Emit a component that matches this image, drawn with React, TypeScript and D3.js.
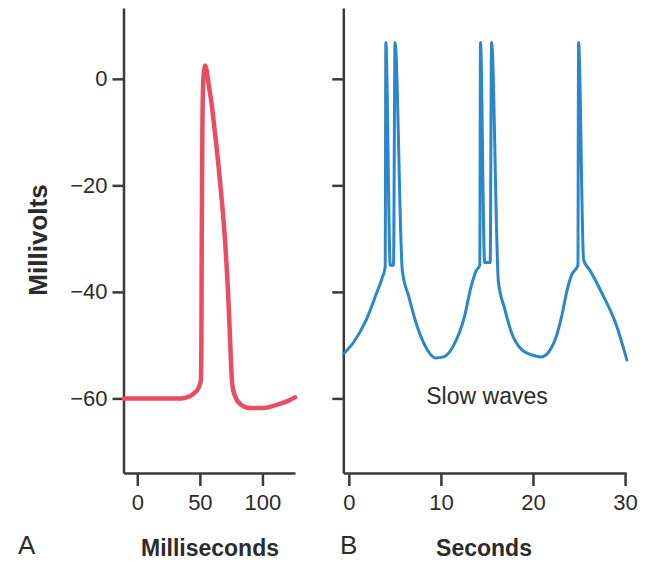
import React, { useRef, useEffect } from "react";
import * as d3 from "d3";

// panel A: action potential (ms, mV)
const msTimes = [-10.6, 0, 20, 35, 42, 46, 49, 50.8, 51.2, 51.5, 52, 52.5, 53.3, 54.3, 55.5, 57, 59, 62, 66, 70, 72.5, 74, 75, 76, 78, 82, 90, 100, 110, 120, 126];
const msValues = [-60, -60, -60, -60, -59.6, -58.9, -58, -56.5, -50, -30, -10, -2, 1.5, 2.5, 1.5, -1, -4, -10, -19, -30, -40, -48, -54, -57.5, -59.5, -61, -61.8, -61.8, -61.3, -60.5, -59.8];

// panel B: slow waves with spikes (s, mV)
const secTimes = [-0.5, 0.5, 1.8, 3.0, 3.6, 3.95, 4.02, 4.5, 4.85, 5.02, 5.81, 6.5, 7.26, 8.14, 9.45, 10.3, 11.4, 12.55, 13.28, 13.83, 14.22, 14.3, 14.75, 15.35, 15.5, 16.24, 16.9, 17.7, 18.75, 20.0, 20.9, 22.4, 23.1, 23.7, 24.2, 24.88, 24.95, 25.5, 26.2, 27.5, 28.96, 30.2];
const secValues = [-51.5, -49.5, -45.6, -40.3, -37.5, -35.3, 6.8, -35, -35, 6.8, -36, -40.8, -45.6, -49.6, -52.4, -52.2, -50, -44.7, -39, -36, -35, 6.8, -34.5, -34.5, 6.8, -38, -43, -47.8, -50.8, -51.9, -52.2, -49, -44.7, -39.7, -36.8, -35, 6.8, -34, -36, -40.3, -45.8, -52.8];

const mvTicks = [0, -20, -40, -60];
const msTicks = [0, 50, 100];
const secTicks = [0, 10, 20, 30];

const FONT = "'Liberation Sans', Arial, sans-serif";
const INK = "#2b2b2b";

const App = () => {
  const svgRef = useRef<SVGSVGElement>(null);

  useEffect(() => {
    const svg = d3.select(svgRef.current);
    svg.selectAll("*").remove();

    const y = d3.scaleLinear().domain([-74, 13.3]).range([473, 8]);
    const xA = d3.scaleLinear().domain([-11, 126]).range([123.5, 295]);
    const xB = d3.scaleLinear().domain([-0.6, 30.1]).range([343.3, 626]);

    const styleAxis = (g) => {
      g.attr("font-size", 22).attr("font-family", FONT);
      g.selectAll("path, line").attr("stroke", "#3a3a3a").attr("stroke-width", 2.5);
      g.selectAll("text").attr("fill", INK);
    };

    // panel A axes
    svg.append("g")
      .attr("transform", "translate(123.5,0)")
      .call(d3.axisLeft(y).tickValues(mvTicks).tickSize(11).tickSizeOuter(0).tickPadding(5))
      .call(styleAxis);
    svg.append("g")
      .attr("transform", "translate(0,473)")
      .call(d3.axisBottom(xA).tickValues(msTicks).tickSize(13).tickSizeOuter(0).tickPadding(8))
      .call(styleAxis);

    // panel B axes
    svg.append("g")
      .attr("transform", "translate(343.3,0)")
      .call(d3.axisLeft(y).tickValues(mvTicks).tickSize(11).tickSizeOuter(0).tickFormat(() => ""))
      .call(styleAxis);
    svg.append("g")
      .attr("transform", "translate(0,473)")
      .call(d3.axisBottom(xB).tickValues(secTicks).tickSize(13).tickSizeOuter(0).tickPadding(8))
      .call(styleAxis);

    const lineA = d3.line<number>()
      .x((d, i) => xA(msTimes[i]))
      .y(d => y(d))
      .curve(d3.curveMonotoneX);
    svg.append("path")
      .attr("d", lineA(msValues))
      .attr("fill", "none")
      .attr("stroke", "#ea4d61")
      .attr("stroke-width", 4.5)
      .attr("stroke-linejoin", "round")
      .attr("stroke-linecap", "round");

    const lineB = d3.line<number>()
      .x((d, i) => xB(secTimes[i]))
      .y(d => y(d))
      .curve(d3.curveMonotoneX);
    svg.append("path")
      .attr("d", lineB(secValues))
      .attr("fill", "none")
      .attr("stroke", "#2a87c9")
      .attr("stroke-width", 3)
      .attr("stroke-linejoin", "round")
      .attr("stroke-linecap", "round");

    // labels
    const txt = (x, yy, s, size, weight = "normal", anchor = "middle") =>
      svg.append("text")
        .attr("x", x).attr("y", yy)
        .attr("text-anchor", anchor)
        .attr("font-family", FONT)
        .attr("font-size", size)
        .attr("font-weight", weight)
        .attr("fill", INK)
        .text(s);

    txt(487, 404, "Slow waves", 23);
    txt(210, 556, "Milliseconds", 23, "bold");
    txt(484, 556, "Seconds", 23, "bold");
    txt(18, 554, "A", 26, "normal", "start");
    txt(340, 554, "B", 26, "normal", "start");
    txt(0, 0, "Millivolts", 26, "bold").attr("transform", "translate(47,240) rotate(-90)");
  }, []);

  return (
    <svg
      ref={svgRef}
      width={650}
      height={561}
      style={{ position: "absolute", left: 0, top: 0, background: "#fff" }}
    />
  );
};

export default App;
